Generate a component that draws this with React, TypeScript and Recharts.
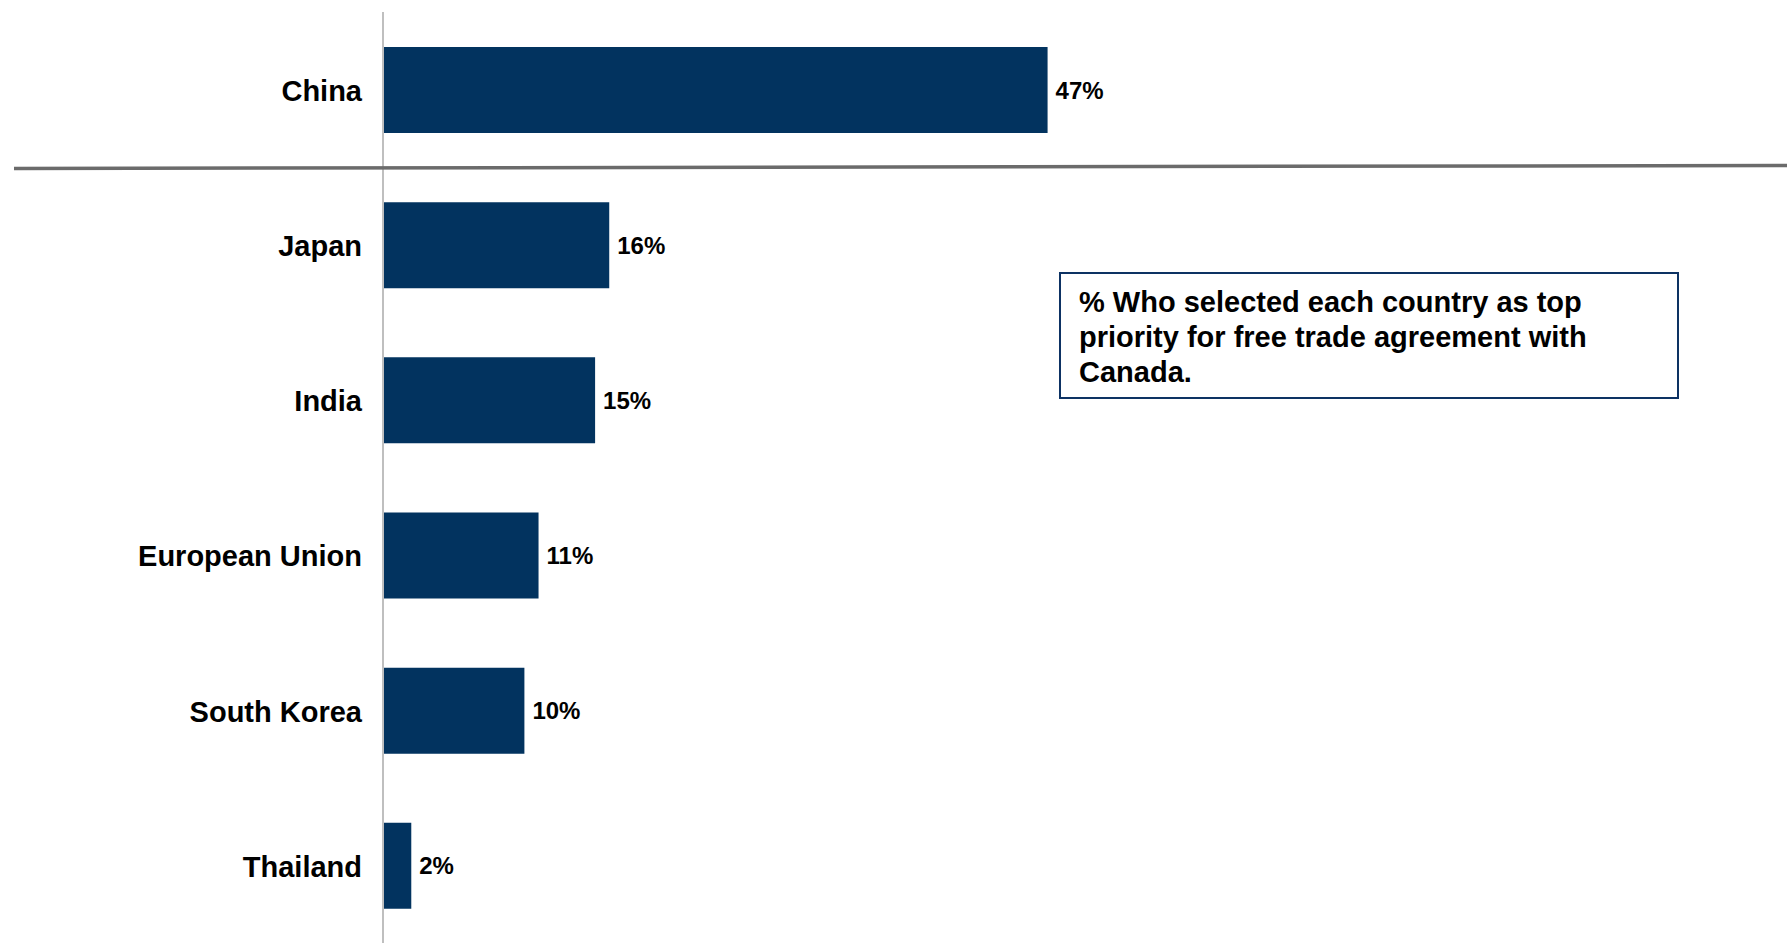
import React from 'react';
import { BarChart, Bar, XAxis, YAxis, LabelList } from 'recharts';

const countries = ['China', 'Japan', 'India', 'European Union', 'South Korea', 'Thailand'];
const shares = [47, 16, 15, 11, 10, 2];
const note = ['% Who selected each country as top', 'priority for free trade agreement with', 'Canada.'];

const data = countries.map((c, i) => ({ country: c, value: shares[i] }));
const FONT = '"Liberation Sans", Arial, Helvetica, sans-serif';

export default function App() {
  return (
    <div style={{ position: 'absolute', left: 0, top: 0, width: 1787, height: 951, background: '#fff', fontFamily: FONT }}>
      <BarChart
        width={1787}
        height={951}
        data={data}
        layout="vertical"
        margin={{ top: 12, right: 697, bottom: 8, left: 0 }}
      >
        <XAxis type="number" domain={[0, 50]} hide />
        <YAxis
          type="category"
          dataKey="country"
          width={383}
          axisLine={{ stroke: '#BFBFBF', strokeWidth: 2 }}
          tickLine={false}
          tickSize={0}
          tickMargin={21}
          tick={{ fill: '#000', fontSize: 29, fontWeight: 700, fontFamily: FONT, dy: 1 }}
        />
        <Bar dataKey="value" fill="#02335F" barSize={86} isAnimationActive={false}>
          <LabelList
            dataKey="value"
            position="right"
            offset={8}
            formatter={(v: number) => `${v}%`}
            style={{ fill: '#000', fontSize: 24, fontWeight: 700, fontFamily: FONT }}
          />
        </Bar>
      </BarChart>
      <svg width={1787} height={951} style={{ position: 'absolute', left: 0, top: 0, pointerEvents: 'none' }}>
        <line x1={14} y1={168.5} x2={1787} y2={165.5} stroke="#6B6B6B" strokeWidth={3.5} />
      </svg>
      <div
        style={{
          position: 'absolute',
          left: 1059,
          top: 272,
          width: 620,
          height: 127,
          boxSizing: 'border-box',
          border: '2px solid #0D3263',
          padding: '11px 0 0 18px',
          fontSize: 29,
          lineHeight: '35px',
          fontWeight: 700,
          color: '#000',
          fontFamily: FONT,
          whiteSpace: 'nowrap',
        }}
      >
        {note.map((l, i) => (
          <div key={i}>{l}</div>
        ))}
      </div>
    </div>
  );
}
